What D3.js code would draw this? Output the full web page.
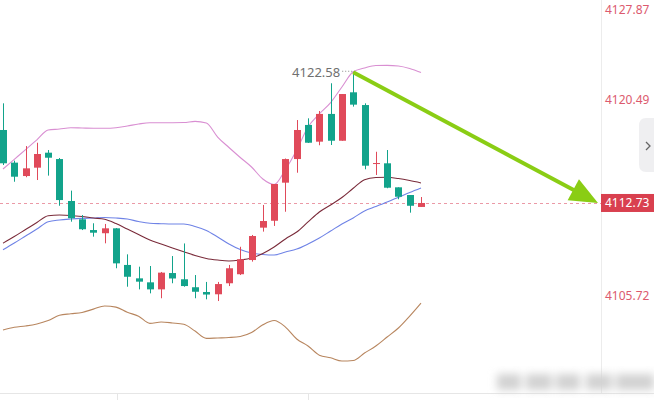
<!DOCTYPE html>
<html>
<head>
<meta charset="utf-8">
<script src="https://cdn.jsdelivr.net/npm/d3@7"></script>
<style>
  body { margin: 0; background: #fff; font-family: "Noto Sans", "Open Sans", Arial, sans-serif; }
</style>
</head>
<body>
<div id="chart"></div>
<script>
// Candles (red = up, green = down)
const opens  = [4118.23, 4115.77, 4114.76, 4115.39, 4116.52, 4116.04, 4112.88, 4111.50, 4110.69, 4110.45,
                4110.82, 4108.06, 4107.05, 4106.75, 4106.22, 4107.45, 4106.98, 4106.38, 4106.02, 4105.85,
                4106.68, 4107.36, 4108.43, 4110.87, 4111.39, 4114.26, 4116.04, 4118.61, 4117.35, 4119.44,
                4117.42, 4121.07, 4120.11, 4115.67, 4115.72, 4113.91, 4113.33, 4112.43];
const highs  = [4120.24, 4115.92, 4117.02, 4117.27, 4116.72, 4116.12, 4113.66, 4111.82, 4111.20, 4111.15,
                4110.84, 4108.86, 4107.93, 4107.98, 4107.53, 4108.73, 4109.68, 4107.30, 4106.78, 4106.78,
                4108.06, 4109.43, 4110.32, 4112.58, 4114.16, 4116.08, 4118.98, 4119.11, 4119.66, 4121.75,
                4120.94, 4122.58, 4120.24, 4116.59, 4116.72, 4113.91, 4113.33, 4113.18];
const lows   = [4115.59, 4114.33, 4114.67, 4114.46, 4114.79, 4112.52, 4111.32, 4110.69, 4110.19, 4109.69,
                4107.81, 4106.42, 4106.22, 4105.92, 4105.55, 4106.68, 4106.42, 4105.55, 4105.47, 4105.34,
                4106.47, 4107.30, 4108.31, 4110.57, 4111.00, 4112.07, 4115.01, 4117.25, 4117.08, 4117.10,
                4117.42, 4119.99, 4115.27, 4114.84, 4113.84, 4113.01, 4112.00, 4112.43];
const closes = [4115.72, 4114.71, 4115.34, 4116.42, 4116.14, 4112.95, 4111.58, 4110.75, 4110.49, 4110.82,
                4108.18, 4107.17, 4106.80, 4106.22, 4107.48, 4107.04, 4106.47, 4106.04, 4105.83, 4106.62,
                4107.81, 4108.49, 4110.24, 4111.37, 4114.16, 4116.04, 4118.23, 4117.27, 4119.44, 4117.42,
                4120.94, 4120.14, 4115.54, 4115.74, 4113.88, 4113.20, 4112.52, 4112.73];

// Indicator lines
const bollUpper = [4115.29, 4116.02, 4116.75, 4117.49, 4118.23, 4118.30, 4118.40, 4118.38, 4118.36, 4118.36,
                   4118.40, 4118.53, 4118.68, 4118.78, 4118.78, 4118.78, 4118.79, 4118.88, 4118.76, 4117.70,
                   4116.91, 4116.16, 4115.44, 4114.54, 4114.12, 4115.25, 4116.72, 4118.45, 4119.44, 4120.29,
                   4121.47, 4122.62, 4122.90, 4123.09, 4123.10, 4123.05, 4122.86, 4122.56];
const bollMid   = [4109.70, 4110.20, 4110.73, 4111.26, 4111.77, 4111.82, 4111.79, 4111.71, 4111.60, 4111.51,
                   4111.18, 4110.77, 4110.35, 4109.94, 4109.64, 4109.34, 4109.05, 4108.77, 4108.55, 4108.43,
                   4108.36, 4108.43, 4108.58, 4108.92, 4109.41, 4110.02, 4110.54, 4111.30, 4112.05, 4112.58,
                   4113.14, 4113.84, 4114.48, 4114.65, 4114.67, 4114.57, 4114.42, 4114.24];
const maBlue    = [4109.20, 4109.71, 4110.24, 4110.77, 4111.32, 4111.45, 4111.52, 4111.57, 4111.60, 4111.64,
                   4111.60, 4111.52, 4111.33, 4111.20, 4111.17, 4111.15, 4111.15, 4110.96, 4110.66, 4110.17,
                   4109.64, 4109.22, 4108.96, 4108.85, 4108.81, 4109.04, 4109.26, 4109.64, 4110.09, 4110.62,
                   4111.15, 4111.60, 4112.13, 4112.46, 4112.80, 4113.16, 4113.52, 4113.86];
const bollLower = [4103.16, 4103.36, 4103.46, 4103.61, 4103.87, 4104.27, 4104.38, 4104.48, 4104.73, 4104.97,
                   4104.88, 4104.49, 4104.20, 4103.66, 4103.76, 4103.69, 4103.59, 4103.08, 4102.53, 4102.56,
                   4102.59, 4102.67, 4102.97, 4103.55, 4103.87, 4103.38, 4102.48, 4101.95, 4101.26, 4101.06,
                   4100.82, 4100.86, 4101.42, 4101.95, 4102.63, 4103.31, 4104.21, 4105.19];

// Axis labels
const axisTicks = [4127.87, 4120.49, 4105.72];
const lastPrice = 4112.73;
const peakIndex = 31;
const peakValue = 4122.58;

const width = 654, height = 400;
const plotRight = 601, plotBottom = 393;

const upColor = '#e04a5a';
const downColor = '#12a38b';

const svg = d3.select('#chart').append('svg')
    .attr('width', width)
    .attr('height', height);

const x = d3.scaleLinear().domain([0, closes.length - 1]).range([3, 421]);
const y = d3.scaleLinear().domain([4105.72, 4120.49]).range([296, 100]);

// blur filter for watermark
const defs = svg.append('defs');
defs.append('filter').attr('id', 'blur')
    .attr('x', '-20%').attr('y', '-50%').attr('width', '140%').attr('height', '200%')
    .append('feGaussianBlur').attr('stdDeviation', 4);

// frame lines
svg.append('line')
    .attr('x1', plotRight + 0.5).attr('x2', plotRight + 0.5)
    .attr('y1', 0).attr('y2', plotBottom)
    .attr('stroke', '#ececec');
svg.append('line')
    .attr('x1', 0).attr('x2', width)
    .attr('y1', plotBottom + 0.5).attr('y2', plotBottom + 0.5)
    .attr('stroke', '#e6e6e6');
[117, 308].forEach(t => {
    svg.append('line')
        .attr('x1', t + 0.5).attr('x2', t + 0.5)
        .attr('y1', plotBottom).attr('y2', height)
        .attr('stroke', '#e6e6e6');
});

// last price dashed line
svg.append('line')
    .attr('x1', 0).attr('x2', plotRight)
    .attr('y1', Math.round(y(lastPrice)) + 0.5).attr('y2', Math.round(y(lastPrice)) + 0.5)
    .attr('stroke', '#eb99a6')
    .attr('stroke-dasharray', '3,3');

// indicator lines
const line = d3.line().x((d, i) => x(i)).y(d => y(d)).curve(d3.curveMonotoneX);
const series = [
    { data: bollLower, color: '#b8865f' },
    { data: maBlue, color: '#6f83e6' },
    { data: bollMid, color: '#7a2b3a' },
    { data: bollUpper, color: '#d98fd2' }
];
series.forEach(s => {
    svg.append('path')
        .attr('d', line(s.data))
        .attr('fill', 'none')
        .attr('stroke', s.color)
        .attr('stroke-width', 1.1);
});

// candles
const candles = closes.map((c, i) => ({ i, o: opens[i], h: highs[i], l: lows[i], c }));
const cg = svg.append('g');
cg.selectAll('.wick')
    .data(candles)
    .enter().append('line')
    .attr('x1', d => Math.round(x(d.i)) + 0.5)
    .attr('x2', d => Math.round(x(d.i)) + 0.5)
    .attr('y1', d => y(d.h))
    .attr('y2', d => y(d.l))
    .attr('stroke', d => d.c >= d.o ? upColor : downColor)
    .attr('stroke-width', 1);
cg.selectAll('.body')
    .data(candles)
    .enter().append('rect')
    .attr('x', d => Math.round(x(d.i)) - 3)
    .attr('width', 7)
    .attr('y', d => y(Math.max(d.o, d.c)))
    .attr('height', d => Math.max(1, Math.abs(y(d.o) - y(d.c))))
    .attr('fill', d => d.c >= d.o ? upColor : downColor);

// peak label
svg.append('text')
    .attr('x', x(peakIndex) - 13)
    .attr('y', y(peakValue))
    .attr('dy', '0.35em')
    .attr('text-anchor', 'end')
    .attr('fill', '#707070')
    .attr('font-size', 13)
    .text(peakValue.toFixed(2));
svg.append('line')
    .attr('x1', x(peakIndex) - 11).attr('x2', x(peakIndex))
    .attr('y1', y(peakValue) - 1).attr('y2', y(peakValue) - 1)
    .attr('stroke', '#888')
    .attr('stroke-dasharray', '1,2');

// arrow
const ax1 = x(peakIndex), ay1 = y(peakValue);
const ax2 = plotRight - 3, ay2 = y(lastPrice);
const ang = Math.atan2(ay2 - ay1, ax2 - ax1);
const headLen = 28, headW = 12;
const bx = ax2 - headLen * Math.cos(ang), by = ay2 - headLen * Math.sin(ang);
svg.append('line')
    .attr('x1', ax1).attr('y1', ay1)
    .attr('x2', bx + 2 * Math.cos(ang)).attr('y2', by + 2 * Math.sin(ang))
    .attr('stroke', '#8acd14')
    .attr('stroke-width', 4);
svg.append('polygon')
    .attr('points', [
        [ax2, ay2],
        [bx + headW * Math.sin(ang), by - headW * Math.cos(ang)],
        [bx - headW * Math.sin(ang), by + headW * Math.cos(ang)]
    ].map(p => p.join(',')).join(' '))
    .attr('fill', '#8acd14');

// right axis labels
svg.selectAll('.tick')
    .data(axisTicks)
    .enter().append('text')
    .attr('x', 605)
    .attr('y', d => Math.max(10, y(d)))
    .attr('dy', '0.35em')
    .attr('fill', '#dc5a6e')
    .attr('font-size', 12)
    .text(d => d.toFixed(2));

// last price tag
svg.append('rect')
    .attr('x', plotRight)
    .attr('y', y(lastPrice) - 9)
    .attr('width', width - plotRight)
    .attr('height', 18)
    .attr('fill', '#d9404f');
svg.append('text')
    .attr('x', 605)
    .attr('y', y(lastPrice))
    .attr('dy', '0.36em')
    .attr('fill', '#fff')
    .attr('font-size', 12)
    .text(lastPrice.toFixed(2));

// side tab
svg.append('path')
    .attr('d', 'M654,118 L646,118 Q639,118 639,126 L639,164 Q639,172 646,172 L654,172 Z')
    .attr('fill', '#efeff1');
svg.append('path')
    .attr('d', 'M646,142 L650,146 L646,150')
    .attr('fill', 'none')
    .attr('stroke', '#666')
    .attr('stroke-width', 1.3);

// blurred watermark
const wm = svg.append('g').attr('filter', 'url(#blur)').attr('fill', '#d2d2d2');
[[497, 24], [526, 26], [556, 24], [586, 26], [616, 24], [640, 14]].forEach(([wx, ww]) => {
    wm.append('rect').attr('x', wx).attr('y', 374).attr('width', ww).attr('height', 16);
});
</script>
</body>
</html>
